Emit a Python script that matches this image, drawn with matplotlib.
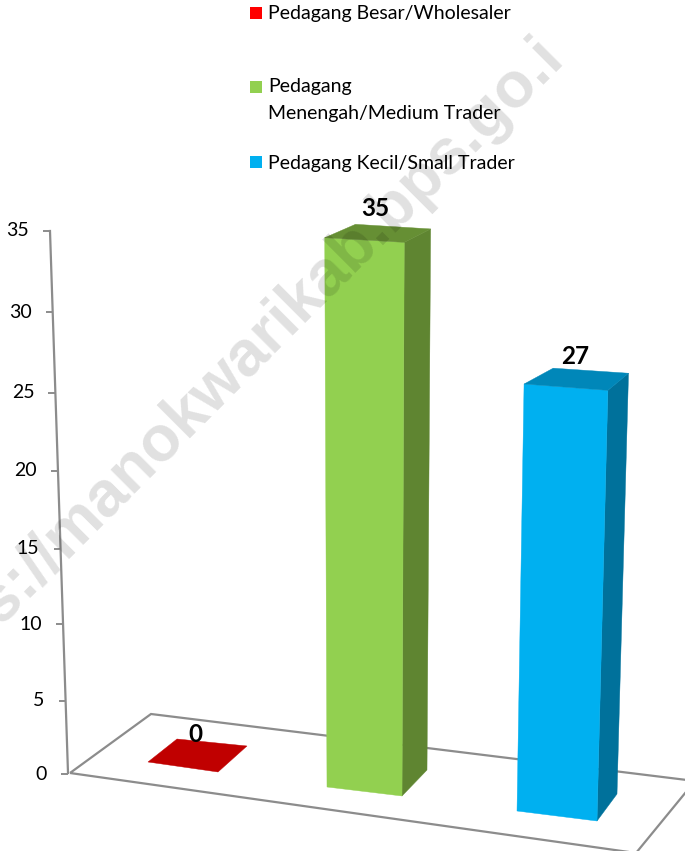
import numpy as np
import matplotlib
matplotlib.use("Agg")
import matplotlib.pyplot as plt
from matplotlib.patches import Polygon, Rectangle

# ---- data ----
categories = ["Pedagang Besar/Wholesaler", "Pedagang\nMenengah/Medium Trader", "Pedagang Kecil/Small Trader"]
values = [0, 35, 27]
axis_ticks = [0, 5, 10, 15, 20, 25, 30, 35]

# ---- styles / layout (pixel space of the oblique view) ----
legend_colors = ["#ff0000", "#92d050", "#00b0f0"]
front_colors = ["#c00000", "#92d050", "#00b0f0"]
side_colors = ["#c00000", "#5f8531", "#00719b"]
top_colors = ["#c00000", "#668f34", "#0087b9"]
tick_pixels = [774, 701, 624, 549, 471, 393, 312, 231]
footprints = [
    [(148, 762), (218, 772), (247, 746), (177, 739)],
    [(327, 787), (402, 796), (427, 770), (356, 761)],
    [(517, 811), (597, 821), (617, 794), (545, 786)],
]
label_xy = [(195, 734), (375, 208), (575, 356)]
legend_boxes = [(250, 7), (250, 81), (250, 156)]
legend_text_top = [5, 78, 155]
V = (365.0, 10000.0)   # vertical vanishing point
grey = "#8c8c8c"
FONT = ["Lato", "DejaVu Sans"]

W, H = 685, 851
fig = plt.figure(figsize=(W / 100, H / 100), dpi=100)
ax = fig.add_axes([0, 0, 1, 1])
ax.set_xlim(0, W)
ax.set_ylim(H, 0)
ax.axis("off")


def project(foot, v):
    """Raise a floor point to value v in the oblique view."""
    rise = tick_pixels[0] - np.interp(v, axis_ticks, tick_pixels)
    s = rise / (V[1] - tick_pixels[0])
    s *= 1 + (foot[1] - 774) * 0.001
    return (foot[0] + (foot[0] - V[0]) * s, foot[1] + (foot[1] - V[1]) * s)


# watermark (under the chart text)
ax.text(565, 59, "https://manokwarikab.bps.go.i", rotation=45, rotation_mode="anchor",
        ha="right", va="baseline", fontsize=46, fontweight="bold", family="Liberation Sans",
        color="#000000", alpha=0.12, zorder=6)

# floor
floor = [(70, 773), (151, 714), (695, 781), (636, 853)]
ax.add_patch(Polygon(floor, closed=True, fill=False, ec=grey, lw=1.6, zorder=1))

# value axis
for t, p in zip(axis_ticks, tick_pixels):
    x = 68 - (773 - p) / 542 * 18
    ax.plot([x - 7, x], [p, p], color=grey, lw=1.4, zorder=1, solid_capstyle="butt")
    ax.text(x - 21, p, str(t), ha="right", va="center", fontsize=14, family=FONT, color="#000000")
ax.plot([68, 50], [773, 231], color=grey, lw=1.6, zorder=1)

# bars
for foot, v, fc, sc, tc in zip(footprints, values, front_colors, side_colors, top_colors):
    tops = [project(f, v) for f in foot]
    if v > 0:
        ax.add_patch(Polygon([foot[1], foot[2], tops[2], tops[1]], fc=sc, ec=sc, lw=0.3, zorder=2))
        ax.add_patch(Polygon([foot[0], foot[1], tops[1], tops[0]], fc=fc, ec=fc, lw=0.3, zorder=3))
    ax.add_patch(Polygon(tops, fc=tc, ec=tc, lw=0.3, zorder=3))

# data labels
for (x, y), v in zip(label_xy, values):
    ax.text(x, y, str(v), ha="center", va="center", fontsize=17.5, fontweight="bold", family=FONT, zorder=7)

# legend
for (x, y), c, name, ty in zip(legend_boxes, legend_colors, categories, legend_text_top):
    ax.add_patch(Rectangle((x, y), 12, 12, fc=c, ec="none", zorder=7))
    ax.text(268, ty, name, ha="left", va="top", fontsize=14,
            family=FONT, linespacing=1.72, zorder=7)

fig.savefig("out.png", dpi=100)
